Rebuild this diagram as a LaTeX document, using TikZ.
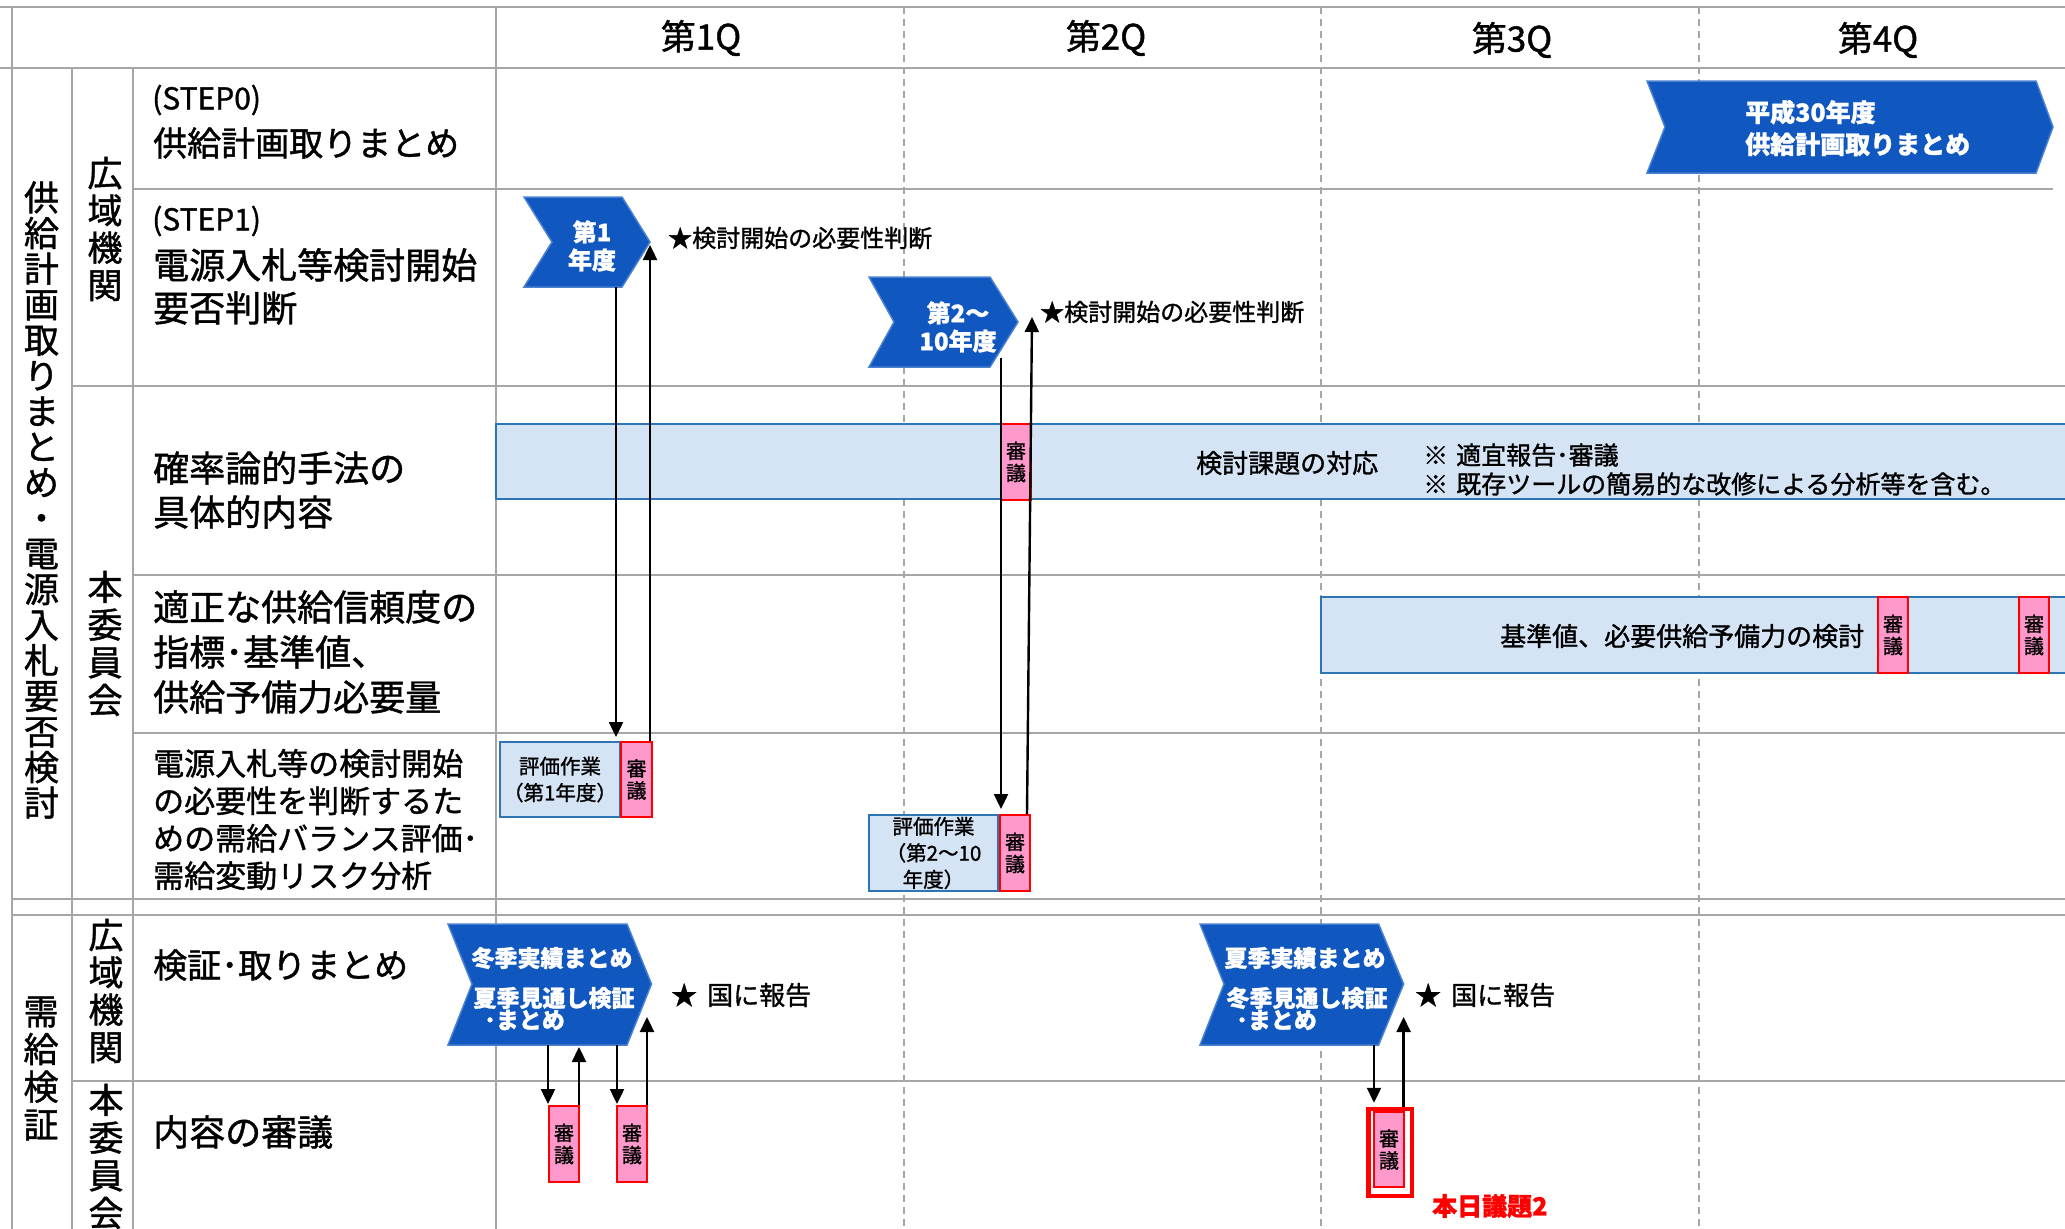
\documentclass[tikz,border=0pt]{standalone}
\usepackage{fontspec}
\setmainfont{Noto Sans CJK JP}[FakeBold=1.2]
\usetikzlibrary{arrows.meta}
\definecolor{gridc}{HTML}{A6A6A6}
\definecolor{chevc}{HTML}{1157C0}
\definecolor{chevd}{HTML}{4A80D0}
\definecolor{bandc}{HTML}{D5E4F5}
\definecolor{bandd}{HTML}{2E75B6}
\definecolor{pinkc}{HTML}{FF99CC}
\newcommand\fsz[2]{\fontsize{#1}{#2}\selectfont}
\begin{document}
\begin{tikzpicture}[x=1pt,y=-1pt,
  gridline/.style={draw=gridc,line width=2pt},
  qdash/.style={draw=gridc,line width=1.4pt,dash pattern=on 7pt off 5pt},
  chev/.style={fill=chevc,draw=chevd,line width=1.5pt},
  chevtxt/.style={text=white,font=\bfseries\fsz{24}{28},align=center,inner sep=0pt},
  chevtxtb/.style={text=white,font=\bfseries\fsz{23}{23},inner sep=0pt},
  band/.style={fill=bandc,draw=bandd,line width=2pt},
  shingi/.style={fill=pinkc,draw=red,line width=2pt,minimum width=30pt,minimum height=76pt,inner sep=0pt,font=\fsz{20}{22},align=center},
  evalbox/.style={fill=bandc,draw=bandd,line width=2pt,inner sep=0pt,font=\fsz{20.5}{26.5},align=center},
  lbl/.style={anchor=west,inner sep=0pt,align=left},
  vlbl/.style={inner sep=0pt,align=center},
  qhead/.style={inner sep=0pt,font=\fsz{35}{35}},
  arr/.style={line width=2.4pt,-{Triangle[length=15pt,width=14pt]}},
  note/.style={anchor=west,inner sep=0pt,align=left}
]
\useasboundingbox (0,0) rectangle (2065,1229);
\fill[white] (0,0) rectangle (2065,1229);
\begin{scope}
\clip (0,0) rectangle (2065,1229);
% dashed quarter lines
\draw[qdash] (904,7) -- (904,1229);
\draw[qdash] (1321,7) -- (1321,1229);
\draw[qdash] (1699,7) -- (1699,1229);
% grid
\draw[gridline] (0,7) -- (2065,7);
\draw[gridline] (0,68) -- (2065,68);
\draw[gridline] (12,7) -- (12,1229);
\draw[gridline] (72,68) -- (72,1229);
\draw[gridline] (133,68) -- (133,1229);
\draw[gridline] (495.5,7) -- (495.5,1229);
\draw[gridline] (133,189) -- (2053,189);
\draw[gridline] (72,386) -- (2065,386);
\draw[gridline] (133,575) -- (2065,575);
\draw[gridline] (133,733) -- (2065,733);
\draw[gridline] (12,899) -- (2065,899);
\draw[gridline] (12,915) -- (2065,915);
\draw[gridline] (72,1081) -- (2065,1081);
% bands
\draw[band] (495.5,424) rectangle (2075,499);
\draw[band] (1321,597) rectangle (2075,673);
% chevrons
\path[chev] (524,197) -- (622,197) -- (650,242) -- (622,287) -- (524,287) -- (552,242) -- cycle;
\path[chev] (869,277) -- (990,277) -- (1018,322) -- (990,367) -- (869,367) -- (894,322) -- cycle;
\path[chev] (1647,81) -- (2036,81) -- (2053,127) -- (2036,173) -- (1647,173) -- (1665,127) -- cycle;
\path[chev] (448,924) -- (627,924) -- (651.5,984) -- (627,1045) -- (448,1045) -- (472,984) -- cycle;
\path[chev] (1200,924) -- (1378.6,924) -- (1403.6,984) -- (1378.6,1045) -- (1200,1045) -- (1224,984) -- cycle;
\end{scope}

% chevron texts
\node[chevtxt] (ch1) at (592,246) {第1\\年度};
\node[chevtxt] (ch2) at (958,327) {第2～\\10年度};
\node[chevtxt,anchor=west,align=left,font=\bfseries\fsz{25}{32}] (ch0) at (1745,128) {平成30年度\\供給計画取りまとめ};
\node[chevtxtb] (ch3a) at (552,958) {冬季実績まとめ};
\node[chevtxtb] (ch3b) at (554,998) {夏季見通し検証};
\node[chevtxtb,anchor=east] (ch3c) at (565,1020) {･まとめ};
\node[chevtxtb] (ch4a) at (1305,958) {夏季実績まとめ};
\node[chevtxtb] (ch4b) at (1307,998) {冬季見通し検証};
\node[chevtxtb,anchor=east] (ch4c) at (1317,1020) {･まとめ};

% boxes
\node[shingi] (sh1) at (1016,462) {審\\議};
\node[evalbox,minimum width=120pt,minimum height=75pt] (ev1) at (560,779.5) {評価作業\\（第1年度）};
\node[shingi,minimum width=31pt,minimum height=75pt] (sh2) at (636.5,779.5) {審\\議};
\node[evalbox,minimum width=129pt,minimum height=76pt] (ev2) at (933.5,853) {評価作業\\（第2～10\\年度）};
\node[shingi] (sh3) at (1015,853) {審\\議};
\node[shingi] (sh4) at (1893,635) {審\\議};
\node[shingi] (sh5) at (2034,635) {審\\議};
\node[shingi] (sh6) at (564,1144) {審\\議};
\node[shingi] (sh7) at (632,1144) {審\\議};
\node[shingi,minimum height=75pt] (sh8) at (1389,1149.5) {審\\議};
\node[draw=red,line width=4.5pt,minimum width=43.5pt,minimum height=87pt,inner sep=0pt] (frame) at (1390.25,1152.5) {};

% arrows
\coordinate (a1) at (616,287);
\coordinate (t1) at (650,245);
\coordinate (a2) at (1001,358);
\coordinate (t2) at (1032,317);
\coordinate (b1) at (548,1045);
\coordinate (t3) at (579,1047);
\coordinate (b2) at (617,1045);
\coordinate (t4) at (647,1017);
\coordinate (b3) at (1374,1045);
\coordinate (t5) at (1403.6,1017);
\draw[arr,shorten >=4pt] (a1) -- (a1 |- ev1.north);
\draw[arr] (t1 |- sh2.north) -- (t1);
\draw[arr,shorten >=5pt] (a2) -- (a2 |- sh3.north);
\draw[arr] ([xshift=12pt]sh3.north) -- (t2);
\draw[arr,shorten >=1pt] (b1) -- (b1 |- sh6.north);
\draw[arr] (t3 |- sh6.north) -- (t3);
\draw[arr,shorten >=1pt] (b2) -- (b2 |- sh7.north);
\draw[arr] (t4 |- sh7.north) -- (t4);
\draw[arr,shorten >=4pt] (b3) -- (b3 |- frame.north);
\draw[arr] (t5 |- frame.north) -- (t5);

% header
\node[qhead] (q1) at (701,38) {第1Q};
\node[qhead] (q2) at (1106,38) {第2Q};
\node[qhead] (q3) at (1512,40) {第3Q};
\node[qhead] (q4) at (1878,40) {第4Q};

% row labels
\node[lbl,font=\fsz{30}{30}] (s0tag) at (152,100) {(STEP0)};
\node[lbl,font=\fsz{34}{34}] (s0) at (153,143) {供給計画取りまとめ};
\node[lbl,font=\fsz{30}{30}] (s1tag) at (152,221) {(STEP1)};
\node[lbl,font=\fsz{36}{43}] (s1) at (153,286.5) {電源入札等検討開始\\要否判断};
\node[lbl,font=\fsz{36}{44}] (kak) at (153,490) {確率論的手法の\\具体的内容};
\node[lbl,font=\fsz{36}{45}] (tek) at (153,652) {適正な供給信頼度の\\指標･基準値、\\供給予備力必要量};
\node[lbl,font=\fsz{31}{37.4}] (den) at (153,819.5) {電源入札等の検討開始\\の必要性を判断するた\\めの需給バランス評価･\\需給変動リスク分析};
\node[lbl,font=\fsz{34}{34}] (ken) at (153,965) {検証･取りまとめ};
\node[lbl,font=\fsz{36}{36}] (nai) at (153,1132) {内容の審議};

% vertical labels
\node[vlbl,font=\fsz{35}{35.6}] (v1) at (41.5,500) {供\\給\\計\\画\\取\\り\\ま\\と\\め\\・\\電\\源\\入\\札\\要\\否\\検\\討};
\node[vlbl,font=\fsz{35}{37.3}] (v2) at (105,229) {広\\域\\機\\関};
\node[vlbl,font=\fsz{35}{37.7}] (v3) at (105,643.5) {本\\委\\員\\会};
\node[vlbl,font=\fsz{35}{37.7}] (v4) at (41,1068.5) {需\\給\\検\\証};
\node[vlbl,font=\fsz{35}{37.3}] (v5) at (106,991) {広\\域\\機\\関};
\node[vlbl,font=\fsz{35}{37.7}] (v6) at (106,1156.5) {本\\委\\員\\会};

% annotations
\node[note,font=\fsz{24}{24}] (star1) at (668,238) {★検討開始の必要性判断};
\node[note,font=\fsz{24}{24}] (star2) at (1040,312) {★検討開始の必要性判断};
\node[note,font=\fsz{26}{26}] (rep1) at (671,995) {★\hspace{10pt}国に報告};
\node[note,font=\fsz{26}{26}] (rep2) at (1415,995) {★\hspace{10pt}国に報告};
\node[note,font=\fsz{26}{26}] (kadai) at (1196,463) {検討課題の対応};
\node[note,font=\fsz{25}{29}] (notes) at (1423,469.5) {※\hspace{8pt}適宜報告･審議\\※\hspace{8pt}既存ツールの簡易的な改修による分析等を含む。};
\node[note,font=\fsz{26}{26}] (kijun) at (1500,636) {基準値、必要供給予備力の検討};
\node[note,text=red,font=\bfseries\fsz{25}{25}] (honj) at (1432,1206) {本日議題2};
\end{tikzpicture}
\end{document}
